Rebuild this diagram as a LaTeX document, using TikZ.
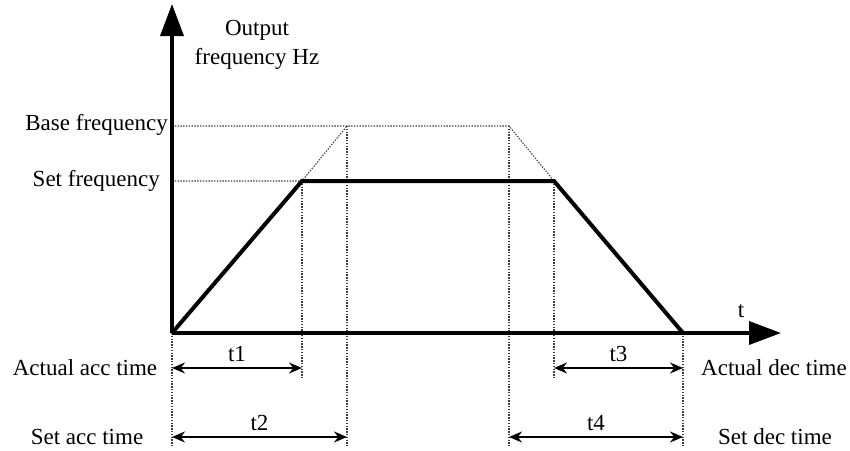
\documentclass[tikz,border=0pt]{standalone}
\usepackage{fontspec}
\setmainfont{Liberation Serif}
\usetikzlibrary{arrows.meta}
\tikzset{
  axis/.style={line width=3.6pt, -{Triangle[length=32pt,width=23pt]}},
  profile/.style={line width=4pt, line join=miter},
  guide/.style={line width=1.1pt, draw={rgb,255:red,60;green,60;blue,60}, dash pattern=on 1.4pt off 1.4pt},
  dim/.style={line width=1.5pt, {Stealth[length=13pt,width=11pt]}-{Stealth[length=13pt,width=11pt]}},
  lbl/.style={inner sep=0pt, font=\fontsize{23}{27}\selectfont}
}
\begin{document}
\begin{tikzpicture}[x=1pt,y=-1pt]
\useasboundingbox[fill=white] (0,0) rectangle (850,450);
% key points
\coordinate (O) at (172,333);
\coordinate (ytop) at (172,4);
\coordinate (xend) at (781,333);
\coordinate (A) at (302,181);
\coordinate (B) at (347,126);
\coordinate (C) at (509,126);
\coordinate (D) at (554,181);
\coordinate (E) at (683,333);
\coordinate (r1) at (0,368);
\coordinate (r2) at (0,437);
\coordinate (low1) at (0,378);
\coordinate (low2) at (0,446);
% guide lines
\draw[guide] (O |- C) -- (C) -- (D);
\draw[guide] (O |- A) -- (A) -- (B);
\draw[guide] (O) -- (O |- low2);
\draw[guide] (A) -- (A |- low1);
\draw[guide] (B) -- (B |- low2);
\draw[guide] (C) -- (C |- low2);
\draw[guide] (D) -- (D |- low1);
\draw[guide] (E) -- (E |- low2);
% axes
\draw[axis] (O) -- (ytop);
\draw[axis] (O) -- (xend);
% profile
\draw[profile] (O) -- (A) -- (D) -- (E);
% axis labels
\node[lbl, align=center] (ylab) at (257,45) {Output\\[2pt]frequency Hz};
\node[lbl] (tlab) at (741,311) {t};
\node[lbl, anchor=east] (base) at (168,125) {Base frequency};
\node[lbl, anchor=east] (setf) at (160,181) {Set frequency};
% dimension arrows
\draw[dim] (O |- r1) -- node[lbl, above=6pt] (t1) {t1} (A |- r1);
\draw[dim] (O |- r2) -- node[lbl, above=6pt] (t2) {t2} (B |- r2);
\draw[dim] (D |- r1) -- node[lbl, above=6pt] (t3) {t3} (E |- r1);
\draw[dim] (C |- r2) -- node[lbl, above=6pt] (t4) {t4} (E |- r2);
% row labels
\node[lbl] (aacc) at (85,368) {Actual acc time};
\node[lbl] (sacc) at (87,437) {Set acc time};
\node[lbl] (adec) at (774,368) {Actual dec time};
\node[lbl] (sdec) at (775,437) {Set dec time};
\end{tikzpicture}
\end{document}
